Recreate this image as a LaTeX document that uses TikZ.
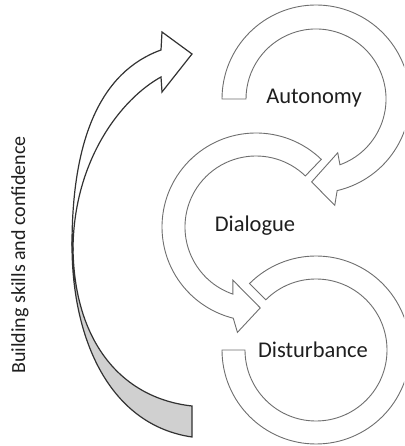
\documentclass[tikz,border=0pt]{standalone}
\usepackage{fontspec}
\setmainfont{Carlito}
\definecolor{ringgray}{RGB}{110,110,110}
\definecolor{edgegray}{RGB}{50,50,50}
\definecolor{backgray}{RGB}{208,208,208}
\definecolor{textgray}{RGB}{30,30,30}
\tikzset{
  ring/.style={draw=ringgray,fill=white,line width=0.9pt,line join=miter},
  frontface/.style={draw=edgegray,fill=white,line width=1.2pt,line join=miter},
  backface/.style={draw=edgegray,fill=backgray,line width=1.2pt,line join=miter},
  stagetext/.style={text=textgray,font=\fontsize{22.5}{27}\selectfont,inner sep=0pt},
  sidetext/.style={text=textgray,font=\fontsize{20}{24}\selectfont,inner sep=0pt}
}
\begin{document}
\begin{tikzpicture}[x=1pt,y=1pt]
    \clip (0,0) rectangle (404,446);
    \coordinate (autonomy) at (316,347);
    \coordinate (dialogue) at (256,219);
    \coordinate (disturbance) at (316,96);
    % big curved arrow on the left
    \draw[backface] (72,201) .. controls (72,106) and (110,21) .. (192,9)
        -- (192,40) .. controls (120,48) and (74,106) .. (73,198) -- cycle;
    \draw[frontface] (72,201) .. controls (72,306) and (100,374) .. (161,396)
        -- (162,414) -- (192,392) -- (162,354) -- (161,369)
        .. controls (121,347) and (74,286) .. (73,198) -- cycle;
    % the three rings
    \begin{scope}[shift={(autonomy)}]
        \draw[ring] (180:94) arc[start angle=180,end angle=-77,radius=94]
            -- (-80:108) -- (-93:83) -- (-68:58) -- (-70:70)
            arc[start angle=-70,end angle=180,radius=70] -- cycle;
    \end{scope}
    \begin{scope}[shift={(dialogue)}]
        \draw[ring] (46:94) arc[start angle=46,end angle=256,radius=94]
            -- (260:107) -- (273:81) -- (246.5:58) -- (251:71)
            arc[start angle=251,end angle=46,radius=71] -- cycle;
    \end{scope}
    \begin{scope}[shift={(disturbance)}]
        \draw[ring] (180:94) arc[start angle=180,end angle=495,radius=94]
            -- (135:71) arc[start angle=135,end angle=-180,radius=71] -- cycle;
    \end{scope}
    \node[stagetext,anchor=base] (auto) at (314,342) {Autonomy};
    \node[stagetext,anchor=base] (dial) at (255,214) {Dialogue};
    \node[stagetext,anchor=base] (dist) at (313,88) {Disturbance};
    \node[sidetext,rotate=90] (build) at (20,191) {Building skills and confidence};
\end{tikzpicture}
\end{document}
